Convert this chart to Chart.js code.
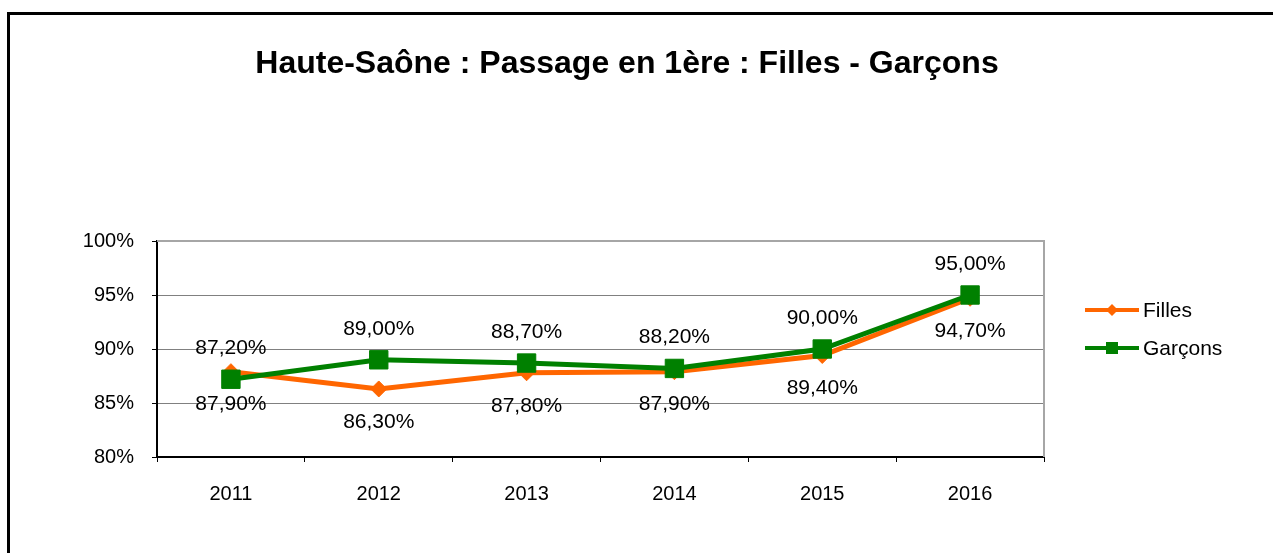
<!DOCTYPE html>
<html>
<head>
<meta charset="utf-8">
<script src="https://cdn.jsdelivr.net/npm/chart.js@4"></script>
<style>
  html, body { margin: 0; padding: 0; background: #fff; }
  #wrap { width: 1273px; height: 553px; }
</style>
</head>
<body>
<div id="wrap"><canvas id="chart" width="1273" height="553"></canvas></div>
<script>
const years = ["2011", "2012", "2013", "2014", "2015", "2016"];
const filles = [87.9, 86.3, 87.8, 87.9, 89.4, 94.7];
const garcons = [87.2, 89.0, 88.7, 88.2, 90.0, 95.0];
const chartTitle = "Haute-Saône : Passage en 1ère : Filles - Garçons";

const FONT = "'Liberation Sans', Arial, sans-serif";
const ORANGE = "#ff6600";
const GREEN = "#008000";

const fmt = v => v.toFixed(2).replace(".", ",") + "%";

// title, frame, data labels and legend
const decor = {
  id: "decor",
  beforeDraw(chart) {
    const ctx = chart.ctx;
    ctx.save();
    ctx.strokeStyle = "#000";
    ctx.lineWidth = 3;
    ctx.beginPath();
    ctx.moveTo(8.5, 553);
    ctx.lineTo(8.5, 13.5);
    ctx.lineTo(1273, 13.5);
    ctx.stroke();

    ctx.fillStyle = "#000";
    ctx.font = "bold 32px " + FONT;
    ctx.textAlign = "center";
    ctx.textBaseline = "middle";
    ctx.fillText(chartTitle, 627, 64);
    ctx.restore();
  },
  afterDatasetsDraw(chart) {
    const ctx = chart.ctx;
    const a = chart.chartArea;
    ctx.save();
    // plot frame
    ctx.strokeStyle = "#a6a6a6";
    ctx.lineWidth = 2;
    ctx.beginPath();
    ctx.moveTo(a.left, a.top);
    ctx.lineTo(a.right, a.top);
    ctx.lineTo(a.right, a.bottom);
    ctx.stroke();

    ctx.font = "21px " + FONT;
    ctx.fillStyle = "#000";
    ctx.textAlign = "center";
    ctx.textBaseline = "middle";
    chart.data.datasets.forEach((ds, i) => {
      const meta = chart.getDatasetMeta(i);
      meta.data.forEach((pt, j) => {
        const dy = ds.labelAbove ? -31 : 33;
        ctx.fillText(fmt(ds.data[j]), pt.x, pt.y + dy);
      });
    });

    // legend
    const legendRows = [chart.data.datasets[1], chart.data.datasets[0]];
    legendRows.forEach((ds, k) => {
      const y = 310 + k * 38;
      ctx.strokeStyle = ds.borderColor;
      ctx.lineWidth = 4;
      ctx.beginPath();
      ctx.moveTo(1085, y);
      ctx.lineTo(1139, y);
      ctx.stroke();
      ctx.fillStyle = ds.borderColor;
      ctx.beginPath();
      if (ds.pointStyle === "rect") {
        ctx.rect(1112 - 6, y - 6, 12, 12);
      } else {
        ctx.moveTo(1112, y - 6);
        ctx.lineTo(1118, y);
        ctx.lineTo(1112, y + 6);
        ctx.lineTo(1106, y);
        ctx.closePath();
      }
      ctx.fill();
      ctx.fillStyle = "#000";
      ctx.textAlign = "left";
      ctx.fillText(ds.label, 1143, y + 1);
    });
    ctx.restore();
  }
};

new Chart(document.getElementById("chart"), {
  type: "line",
  data: {
    labels: years,
    datasets: [
      {
        label: "Garçons",
        data: garcons,
        borderColor: GREEN,
        backgroundColor: GREEN,
        borderWidth: 5,
        pointStyle: "rect",
        pointRadius: 13,
        pointBorderWidth: 1,
        pointBackgroundColor: GREEN,
        labelAbove: true,
        order: 0,
      },
      {
        label: "Filles",
        data: filles,
        borderColor: ORANGE,
        backgroundColor: ORANGE,
        borderWidth: 5,
        pointStyle: "rectRot",
        pointRadius: 8,
        pointBorderWidth: 1,
        pointBackgroundColor: ORANGE,
        labelAbove: false,
        order: 1,
      }
    ]
  },
  options: {
    responsive: false,
    animation: false,
    layout: { padding: { left: 0, top: 241, right: 229, bottom: 0 } },
    plugins: {
      legend: { display: false },
      title: { display: false },
      tooltip: { enabled: false }
    },
    scales: {
      x: {
        offset: true,
        afterFit: s => { s.height = 96; },
        grid: {
          offset: true,
          drawOnChartArea: false,
          tickLength: 5,
          color: "#000"
        },
        border: { color: "#000", width: 2 },
        ticks: { color: "#000", font: { family: FONT, size: 20 }, padding: 20 }
      },
      y: {
        min: 80,
        max: 100,
        afterFit: s => { s.width = 157; },
        grid: { color: "#808080", lineWidth: 1, tickLength: 5, tickColor: "#000" },
        border: { color: "#000", width: 2 },
        ticks: {
          stepSize: 5,
          color: "#000",
          padding: 18,
          font: { family: FONT, size: 20 },
          callback: v => v + "%"
        }
      }
    }
  },
  plugins: [decor]
});
</script>
</body>
</html>
